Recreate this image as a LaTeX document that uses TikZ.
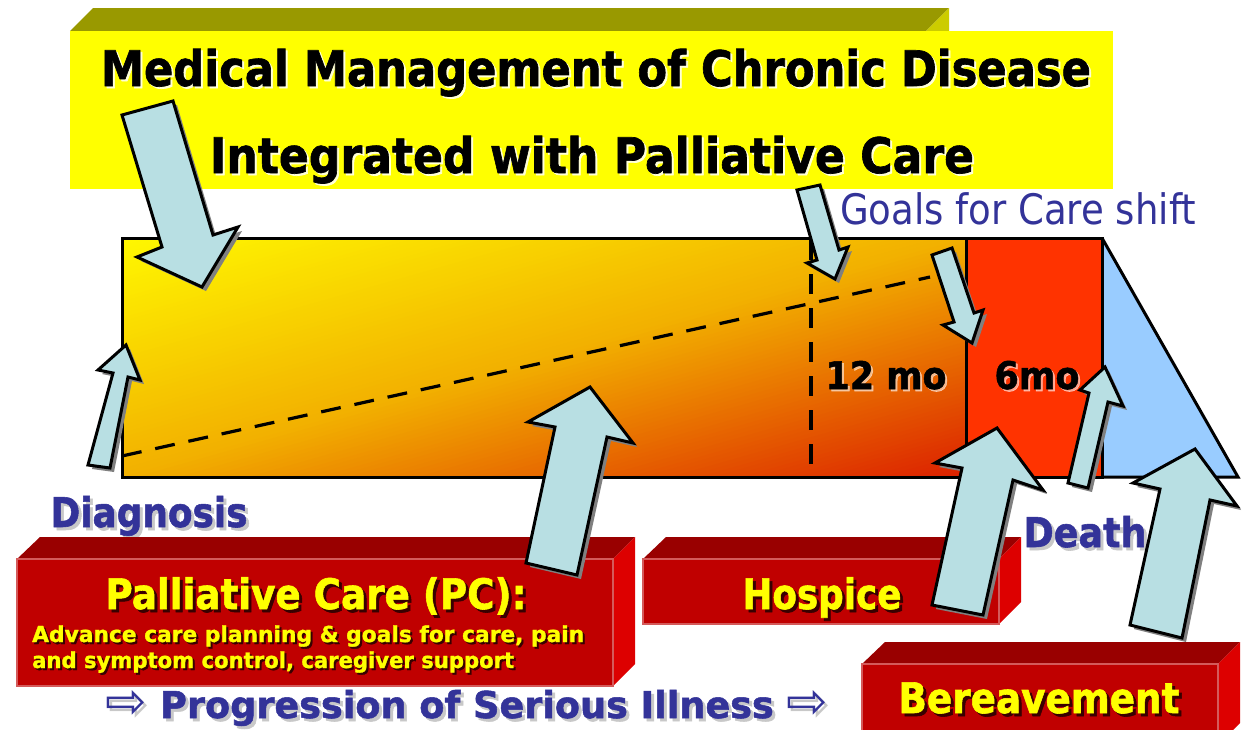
\documentclass[tikz,border=0pt]{standalone}
\usepackage{fontspec}
\setmainfont{DejaVu Sans}[BoldFeatures={FakeBold=1.4}]
\usepackage{graphicx}
\definecolor{olivetop}{HTML}{999900}
\definecolor{oliveside}{HTML}{CCCC00}
\definecolor{ttlyellow}{HTML}{FFFF00}
\definecolor{ttlshadow}{HTML}{FFFFD8}
\definecolor{redfront}{HTML}{C00000}
\definecolor{redtop}{HTML}{990000}
\definecolor{redside}{HTML}{DD0000}
\definecolor{rededge}{HTML}{D45A5A}
\definecolor{redshadow}{HTML}{380000}
\definecolor{sixmo}{HTML}{FF3300}
\definecolor{afterblue}{HTML}{99CCFF}
\definecolor{arrowfill}{HTML}{B8DFE3}
\definecolor{arrowshade}{HTML}{808080}
\definecolor{labelblue}{HTML}{333399}
\definecolor{labelshadow}{HTML}{C8C8C8}
\definecolor{gradtop}{HTML}{FFF800}
\definecolor{gradmid}{HTML}{F2B000}
\definecolor{gradbot}{HTML}{DC2000}

% block arrow: name, then seven corners (tail left, shaft, barb, tip, barb, shaft, tail right)
\newcommand\blockarrow[8]{%
  \fill[arrowshade, xshift=4pt, yshift=-4pt] #2 -- #3 -- #4 -- #5 -- #6 -- #7 -- #8 -- cycle;
  \draw[arrowbody] #2 -- #3 -- #4 -- #5 -- #6 -- #7 -- #8 -- cycle;
  \coordinate (#1) at #5;
}
% text with a drop shadow, squeezed to a given width
\newcommand\shadowlabel[6]{%
  \node[#3,#4] at #2 {\resizebox{#5}{\height}{#6}};
  \node[#3] (#1) at #2 {\resizebox{#5}{\height}{#6}};
}
% red 3D block: name, front left, front top, front right, front bottom
\newcommand\redblock[5]{%
  \fill[redtop] (#2,#3) -- ({#2+23},{#3-22}) -- ({#4+22},{#3-22}) -- (#4,#3) -- cycle;
  \fill[redside] (#4,#3) -- ({#4+22},{#3-22}) -- ({#4+22},{#5-22}) -- (#4,#5) -- cycle;
  \path[fill=redfront, draw=rededge, line width=1.4pt] (#2,#3) rectangle (#4,#5);
  \coordinate (#1) at ({(#2+#4)/2},{(#3+#5)/2});
}
\newcommand\openarrow{{\mdseries\scalebox{1.35}{⇨}}}

\begin{document}
\begin{tikzpicture}[x=1pt, y=-1pt,
  arrowbody/.style={fill=arrowfill, draw=black, line width=3pt, line join=miter},
  barline/.style={draw=black, line width=3pt, line join=miter},
  dashline/.style={draw=black, line width=3.2pt, dash pattern=on 20pt off 14pt},
  txt/.style={inner sep=0pt, anchor=base},
  txtw/.style={inner sep=0pt, anchor=base west},
  titlefont/.style={font=\bfseries\fontsize{49}{50}\selectfont, text=black},
  titlesh/.style={text=ttlshadow, xshift=2pt, yshift=-2pt},
  bluebold/.style={font=\bfseries\fontsize{41}{42}\selectfont, text=labelblue},
  bluesh/.style={text=labelshadow, xshift=3pt, yshift=-3pt},
  boxfont/.style={font=\bfseries\fontsize{42}{43}\selectfont, text=ttlyellow},
  boxsmall/.style={font=\bfseries\fontsize{22}{23}\selectfont, text=ttlyellow},
  boxsh/.style={text=redshadow, xshift=3pt, yshift=-3pt},
  boxsmallsh/.style={text=redshadow, xshift=2pt, yshift=-2pt},
  mofont/.style={font=\bfseries\fontsize{38}{39}\selectfont, text=black},
  mosh/.style={text=white, opacity=0.55, xshift=2pt, yshift=-2pt}]
\useasboundingbox (0,0) rectangle (1248,729);
\fill[white] (0,0) rectangle (1248,729);

% title block
\fill[olivetop] (70,31) -- (93,8) -- (949,8) -- (926,31) -- cycle;
\fill[oliveside] (926,31) -- (949,8) -- (949,166) -- (926,189) -- cycle;
\fill[ttlyellow] (70,31) rectangle (1113,189);
\shadowlabel{title1}{(596,86)}{txt,titlefont}{titlesh}{990pt}{Medical Management of Chronic Disease}
\shadowlabel{title2}{(592,173)}{txt,titlefont}{titlesh}{764pt}{Integrated with Palliative Care}

% illness timeline bar: corner gradient, yellow at top left to red at bottom right
\begin{scope}
  \clip (122,238) rectangle (966,477);
  \begin{scope}[shift={(122,238)}, x=844pt, y=-239pt]
    \foreach \i in {0,...,119} {
      \pgfmathsetmacro\s{(\i+0.5)/120}
      \pgfmathsetmacro\ca{2*\i/120}
      \pgfmathsetmacro\cb{2*(\i+1)/120+0.004}
      \ifdim\s pt<0.5pt
        \pgfmathsetmacro\p{\s*200}
        \colorlet{stripe}{gradmid!\p!gradtop}
      \else
        \pgfmathsetmacro\p{(\s-0.5)*200}
        \colorlet{stripe}{gradbot!\p!gradmid}
      \fi
      \fill[stripe] (\ca+2,-2) -- (\cb+2,-2) -- (\cb-2,2) -- (\ca-2,2) -- cycle;
    }
  \end{scope}
\end{scope}
\fill[sixmo] (966,238) rectangle (1102,477);
\fill[afterblue] (1102,238) -- (1238,477) -- (1102,477) -- cycle;
\draw[dashline] (122,456) -- (930,277);
\draw[dashline] (811,240) -- (811,477);
\draw[barline] (122,238) rectangle (1102,477);
\draw[barline] (966,238) -- (966,477);
\draw[barline] (1102,238) -- (1238,477) -- (1102,477);
\shadowlabel{twelve}{(886,389)}{txt,mofont}{mosh}{121pt}{12 mo}
\shadowlabel{six}{(1037,389)}{txt,mofont}{mosh}{85pt}{6mo}

% labels around the bar
\node[txt, font=\fontsize{42}{43}\selectfont, text=labelblue] (goals) at (1018,224)
  {\resizebox{356pt}{\height}{Goals for Care shift}};
\shadowlabel{diagnosis}{(149,527)}{txt,bluebold}{bluesh}{197pt}{Diagnosis}
\shadowlabel{death}{(1085,547)}{txt,bluebold}{bluesh}{123pt}{Death}

% service blocks
\redblock{pcbox}{17}{559}{613}{686}
\redblock{hospicebox}{643}{559}{999}{624}
\redblock{bereavebox}{862}{664}{1218}{745}
\shadowlabel{pc}{(316,609)}{txt,boxfont}{boxsh}{421pt}{Palliative Care (PC):}
\shadowlabel{pcline1}{(32,642)}{txtw,boxsmall}{boxsmallsh}{552pt}{Advance care planning \& goals for care, pain}
\shadowlabel{pcline2}{(32,668)}{txtw,boxsmall}{boxsmallsh}{482pt}{and symptom control, caregiver support}
\shadowlabel{hospice}{(822,609)}{txt,boxfont}{boxsh}{159pt}{Hospice}
\shadowlabel{bereave}{(1039,713)}{txt,boxfont}{boxsh}{281pt}{Bereavement}

% progression line
\shadowlabel{progress}{(467,718)}{txt,font=\bfseries\fontsize{37}{38}\selectfont, text=labelblue}{bluesh}{722pt}{\openarrow\ Progression of Serious Illness \openarrow}

% pointer arrows
\blockarrow{a1}{(122,115)}{(162,247)}{(137,257)}{(202,287)}{(238,227)}{(213,235)}{(173,101)}
\blockarrow{a2}{(797,190)}{(817,260)}{(807,263)}{(835,279)}{(848,247)}{(839,250)}{(820,185)}
\blockarrow{a3}{(932,255)}{(954,322)}{(943,325)}{(972,343)}{(983,310)}{(974,313)}{(952,248)}
\blockarrow{a4}{(88,465)}{(113,373)}{(98,370)}{(126,345)}{(140,380)}{(128,377)}{(110,468)}
\blockarrow{a5}{(526,563)}{(555,427)}{(528,422)}{(590,387)}{(633,443)}{(607,437)}{(577,575)}
\blockarrow{a6}{(932,605)}{(962,468)}{(935,463)}{(997,428)}{(1043,490)}{(1013,480)}{(983,615)}
\blockarrow{a7}{(1068,483)}{(1089,393)}{(1080,390)}{(1105,367)}{(1123,406)}{(1108,402)}{(1088,488)}
\blockarrow{a8}{(1130,625)}{(1160,489)}{(1133,483)}{(1195,449)}{(1237,506)}{(1210,500)}{(1182,638)}
\end{tikzpicture}
\end{document}
